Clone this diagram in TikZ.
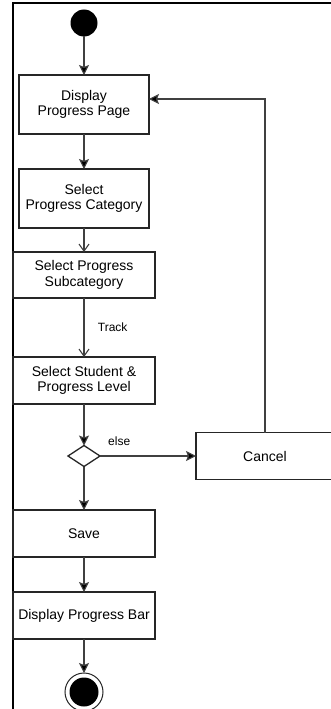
\documentclass[tikz,border=0pt]{standalone}
\usepackage{fontspec}
\setmainfont{Liberation Sans}
\usetikzlibrary{shapes.geometric, arrows.meta, positioning}

\begin{document}
\begin{tikzpicture}[
    x=1pt, y=1pt,
    activity/.style={rectangle, draw=black!85, line width=1.3pt, outer sep=0pt, minimum width=142pt, minimum height=47pt, align=center, inner sep=0pt, fill=white, font=\fontsize{14}{15.5}\selectfont},
    branch/.style={diamond, draw=black!85, line width=1.3pt, outer sep=0pt, minimum width=32pt, minimum height=21pt, inner sep=0pt, fill=white},
    arrow/.style={-{Stealth[length=10pt,width=10pt,inset=2pt,fill=black]}, line width=1.1pt, draw=black!75},
    openarrow/.style={-{Straight Barb[length=7pt,width=10pt]}, line width=1.1pt, draw=black!75},
    guard/.style={font=\fontsize{12}{14}\selectfont},
    node distance=35pt
]
    \useasboundingbox (0,0) rectangle (331,-709);
    % Frame
    \draw[line width=1.6pt] (13,-712) -- (13,-3) -- (334,-3);

    % Activities and Decisions
    \node[circle, fill=black, outer sep=0pt, minimum size=27pt, inner sep=0pt] (start) at (84,-23) {};
    \node[activity, minimum width=130pt, minimum height=59pt, below=38.5pt of start] (page) {Display\\Progress Page};
    \node[activity, minimum width=130pt, minimum height=59pt, below=of page] (category) {Select\\Progress Category};
    \node[activity, minimum height=46pt, below=24pt of category] (subcat) {Select Progress\\Subcategory};
    \node[activity, below=59pt of subcat] (level) {Select Student \&\\Progress Level};
    \node[branch, below=41.5pt of level] (choice) {};
    \node[activity, minimum width=138pt, right=96pt of choice] (cancel) {Cancel};
    \node[activity, below=43.5pt of choice] (save) {Save};
    \node[activity, below=of save] (bar) {Display Progress Bar};
    \node[circle, draw=black!85, line width=1pt, outer sep=0pt, fill=white, minimum size=38pt, inner sep=0pt, below=34pt of bar] (stop) {};
    \node[circle, fill=black, minimum size=29pt, inner sep=0pt] (stopdot) at (stop) {};

    % Flow
    \draw[arrow] (start) -- (page);
    \draw[arrow] (page) -- (category);
    \draw[openarrow] (category) -- (subcat);
    \draw[openarrow] (subcat) -- node[guard, right=10pt] {Track} (level);
    \draw[arrow] (level) -- (choice);
    \draw[arrow] (choice.east) -- node[guard, pos=0.2, above=7pt] {else} (choice.east -| cancel.west);
    \draw[arrow] (choice) -- (save);
    \draw[arrow] (save) -- (bar);
    \draw[arrow] (bar) -- (stop);

    % Back to the progress page
    \draw[arrow] (cancel.north) |- ([yshift=5.5pt]page.east);
\end{tikzpicture}
\end{document}
